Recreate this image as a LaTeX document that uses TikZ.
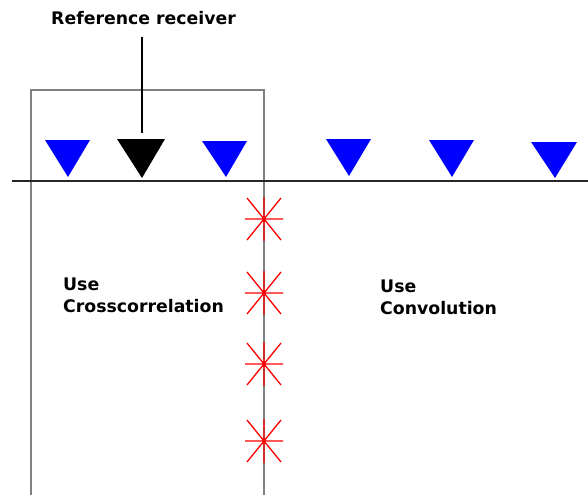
\documentclass[tikz,border=0pt]{standalone}
\usepackage{fontspec}
\setmainfont{DejaVu Sans}
\usetikzlibrary{calc}
\begin{document}
\begin{tikzpicture}[x=1pt,y=-1pt,
  lbl/.style={font=\bfseries\fontsize{17.3}{22}\selectfont, inner sep=0pt, align=left},
  rcv/.style={fill=blue},
  refrcv/.style={fill=black},
  star/.style={draw=red, line width=1.3pt},
  region/.style={draw=gray, line width=1.4pt},
  surface/.style={draw=black!85, line width=1.5pt}
]
\useasboundingbox (0,0) rectangle (588,495);
% region box
\draw[region] (31,495) -- (31,90) -- (264,90) -- (264,495);
% surface
\draw[surface] (12,181) -- (588,181);
% receivers
\fill[rcv] (45,140) -- (90,140) -- (68,177) -- cycle;
\fill[refrcv] (117,139) -- (165,139) -- (142,178) -- cycle;
\fill[rcv] (202,141) -- (247,141) -- (226,177) -- cycle;
\fill[rcv] (326,139) -- (371,139) -- (349,176) -- cycle;
\fill[rcv] (429,140) -- (474,140) -- (452,177) -- cycle;
\fill[rcv] (531,142) -- (577,142) -- (555,178) -- cycle;
% label and pointer
\node[lbl, anchor=base west] (reflbl) at (51,25) {Reference receiver};
\coordinate (ptop) at (142,37);
\coordinate (pbot) at (142,133);
\draw[line width=1.4pt] (ptop) -- (pbot);
% sources
\foreach \y/\n in {219/s1,293/s2,364/s3,441/s4}{
  \coordinate (\n) at (264,\y);
  \draw[star] ($(\n)+(-19,0)$) -- ($(\n)+(19,0)$)
              ($(\n)+(0,-22)$) -- ($(\n)+(0,22)$)
              ($(\n)+(-17,-21)$) -- ($(\n)+(17,21)$)
              ($(\n)+(-17,21)$) -- ($(\n)+(17,-21)$);
}
% region texts
\node[lbl, anchor=base west] (cc1) at (63,290) {Use};
\node[lbl, anchor=base west] (cc2) at (63,312) {Crosscorrelation};
\node[lbl, anchor=base west] (cv1) at (380,292) {Use};
\node[lbl, anchor=base west] (cv2) at (380,314) {Convolution};
\end{tikzpicture}
\end{document}
